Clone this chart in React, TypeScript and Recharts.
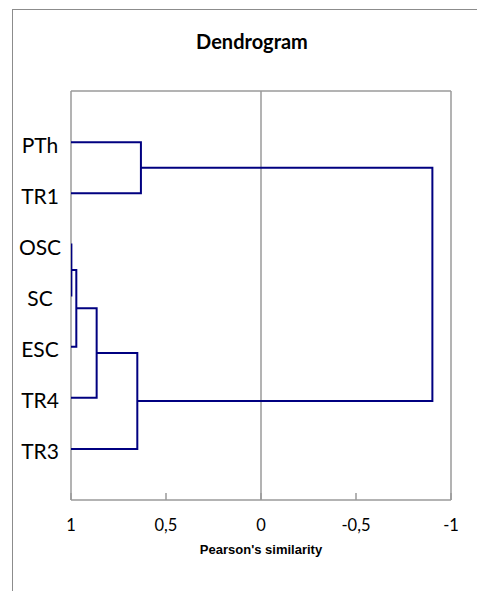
import React from 'react'
import {
  ComposedChart,
  Line,
  XAxis,
  YAxis,
  ReferenceLine,
  Label,
} from 'recharts'

// leaves from top to bottom
const leaves = ['PTh', 'TR1', 'OSC', 'SC', 'ESC', 'TR4', 'TR3']

// merge steps: [left child, right child, Pearson similarity at merge]
// children are leaf names or earlier merge ids (m1, m2, ...)
const merges: [string, string, number][] = [
  ['OSC', 'SC', 0.998],
  ['m1', 'ESC', 0.972],
  ['m2', 'TR4', 0.865],
  ['m3', 'TR3', 0.651],
  ['PTh', 'TR1', 0.632],
  ['m5', 'm4', -0.902],
]

const xTicks = [1, 0.5, 0, -0.5, -1]

const LINE_COLOR = '#000080'
const GRID_COLOR = '#9a9a9a'

interface Node {
  y: number
  h: number
}

// turn the merge list into bracket polylines
const buildBrackets = () => {
  const nodes: Record<string, Node> = {}
  leaves.forEach((name, i) => {
    nodes[name] = { y: i + 1, h: 1 }
  })
  return merges.map(([a, b, sim], i) => {
    const na = nodes[a]
    const nb = nodes[b]
    nodes[`m${i + 1}`] = { y: (na.y + nb.y) / 2, h: sim }
    return [
      { x: na.h, y: na.y },
      { x: sim, y: na.y },
      { x: sim, y: nb.y },
      { x: nb.h, y: nb.y },
    ]
  })
}

const brackets = buildBrackets()

const LeafTick = ({ y, payload }: any) => (
  <text
    x={40}
    y={y}
    dy={10.5}
    textAnchor="middle"
    fontFamily="Lato, sans-serif"
    fontSize={21}
    fill="#000"
  >
    {leaves[payload.value - 1]}
  </text>
)

const SimTick = ({ x, y, payload }: any) => (
  <g>
    <line x1={x} x2={x} y1={y - 7} y2={y} stroke={GRID_COLOR} strokeWidth={1.5} />
    <text
      x={x}
      y={y + 31}
      textAnchor="middle"
      fontFamily="Lato, sans-serif"
      fontSize={16.5}
      fill="#000"
    >
      {String(payload.value).replace('.', ',')}
    </text>
  </g>
)

export default function App() {
  return (
    <div
      style={{
        position: 'fixed',
        left: 0,
        top: 0,
        width: 477,
        height: 591,
        overflow: 'hidden',
        background: '#fff',
      }}
    >
      <div
        style={{
          position: 'absolute',
          left: 12,
          top: 9,
          width: 700,
          height: 800,
          border: '1.5px solid #8c8c8c',
        }}
      />
      <div
        style={{
          position: 'absolute',
          left: 13,
          width: 478,
          top: 29,
          textAlign: 'center',
          fontFamily: 'Lato, sans-serif',
          fontWeight: 'bold',
          fontSize: 20,
          lineHeight: 1.2,
          color: '#000',
        }}
      >
        Dendrogram
      </div>
      <div style={{ position: 'absolute', left: 0, top: 0 }}>
        <ComposedChart
          width={477}
          height={591}
          margin={{ top: 91, right: 26, bottom: 31, left: 0 }}
        >
          <XAxis
            type="number"
            dataKey="x"
            domain={[-1, 1]}
            reversed
            ticks={xTicks}
            tick={<SimTick />}
            tickLine={false}
            tickSize={0}
            tickMargin={0}
            axisLine={{ stroke: GRID_COLOR, strokeWidth: 1.5 }}
            height={60}
            allowDataOverflow
          >
            <Label
              value="Pearson's similarity"
              position="insideBottom"
              offset={6}
              style={{
                fontFamily: "'Liberation Sans', Arial, sans-serif",
                fontWeight: 'bold',
                fontSize: 13,
                fill: '#000',
              }}
            />
          </XAxis>
          <YAxis
            type="number"
            domain={[0, 8]}
            reversed
            ticks={[1, 2, 3, 4, 5, 6, 7]}
            tick={<LeafTick />}
            tickLine={false}
            axisLine={false}
            width={71}
            allowDataOverflow
          />
          <ReferenceLine y={0} stroke={GRID_COLOR} strokeWidth={1.5} />
          <ReferenceLine x={1} stroke={GRID_COLOR} strokeWidth={1.5} />
          <ReferenceLine x={0} stroke={GRID_COLOR} strokeWidth={1.5} />
          <ReferenceLine x={-1} stroke={GRID_COLOR} strokeWidth={1.5} />
          {brackets.map((pts, i) => (
            <Line
              key={i}
              data={pts}
              dataKey="y"
              type="linear"
              stroke={LINE_COLOR}
              strokeWidth={2}
              dot={false}
              activeDot={false}
              isAnimationActive={false}
            />
          ))}
        </ComposedChart>
      </div>
    </div>
  )
}
